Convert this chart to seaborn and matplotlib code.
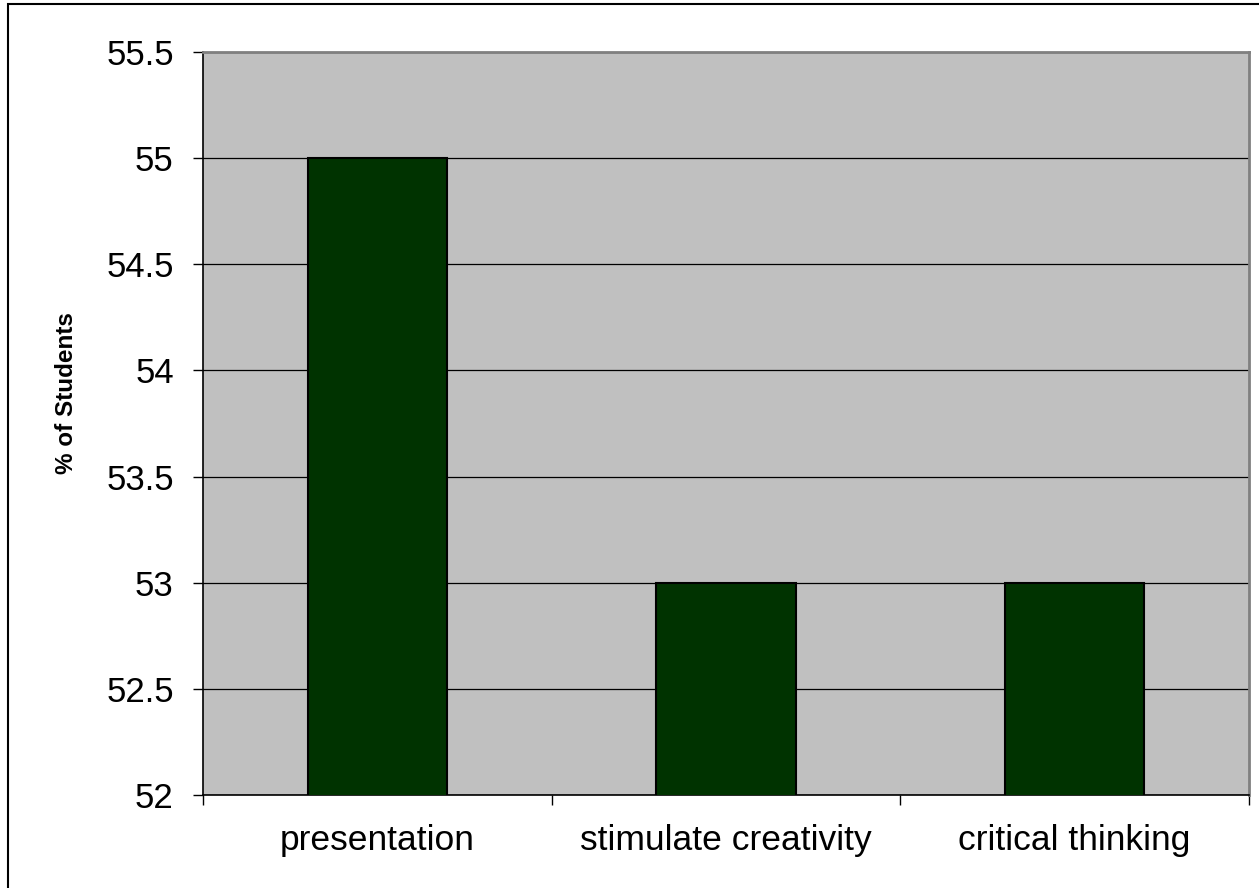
import matplotlib
matplotlib.use("Agg")
import matplotlib.pyplot as plt
import matplotlib.patches as mpatches
import seaborn as sns
import pandas as pd

# survey results: share of students per skill
categories = ['presentation', 'stimulate creativity', 'critical thinking']
percent = [55, 53, 53]
yticks = [52, 52.5, 53, 53.5, 54, 54.5, 55, 55.5]
ytick_labels = ['52', '52.5', '53', '53.5', '54', '54.5', '55', '55.5']

df = pd.DataFrame({'skill': categories, 'pct': percent})

sns.set_style('white')
plt.rcParams['font.family'] = ['Liberation Sans', 'DejaVu Sans']
plt.rcParams['text.color'] = 'black'
plt.rcParams['xtick.color'] = 'black'
plt.rcParams['ytick.color'] = 'black'
plt.rcParams['axes.labelcolor'] = 'black'

fig = plt.figure(figsize=(12.59, 8.88), dpi=100)
ax = fig.add_axes([0.1612, 0.1047, 0.8308, 0.8367])
ax.set_facecolor('#c0c0c0')

sns.barplot(data=df, x='skill', y='pct', color='#003300', width=0.4,
            edgecolor='black', linewidth=1.5, saturation=1, ax=ax, zorder=3)

ax.set_ylim(52, 55.5)
ax.set_xlim(-0.5, 2.5)
ax.set_yticks(yticks)
ax.set_yticklabels(ytick_labels)
ax.yaxis.grid(True, color='black', linewidth=0.9, zorder=1)
ax.set_axisbelow(True)

# x ticks sit on the category boundaries, labels in between
ax.set_xticks([-0.5, 0.5, 1.5, 2.5])
ax.set_xticklabels([])
ax.set_xticks([0, 1, 2], minor=True)
ax.set_xticklabels(categories, minor=True)
ax.tick_params(axis='x', which='minor', length=0, pad=21, labelsize=25.5)
ax.tick_params(axis='x', which='major', length=7, width=1, direction='out')
ax.tick_params(axis='y', length=7, width=1, direction='out', labelsize=25, pad=14)
ax.tick_params(bottom=True, left=True)

ax.set_xlabel('')
ax.set_ylabel('% of Students', fontsize=17.5, fontweight='bold')
ax.yaxis.set_label_coords(-0.1195, 0.541)

for side in ['left', 'bottom']:
    ax.spines[side].set_color('black')
    ax.spines[side].set_linewidth(1.2)
for side in ['top', 'right']:
    ax.spines[side].set_color('#808080')
    ax.spines[side].set_linewidth(2)

# outer chart border
fig.patches.append(mpatches.Rectangle((8 / 1259, -0.01), 1.0, 1 - 4 / 888 + 0.01,
                                      transform=fig.transFigure, fill=False,
                                      edgecolor='black', linewidth=1.5))

fig.savefig('out.png', dpi=100)
